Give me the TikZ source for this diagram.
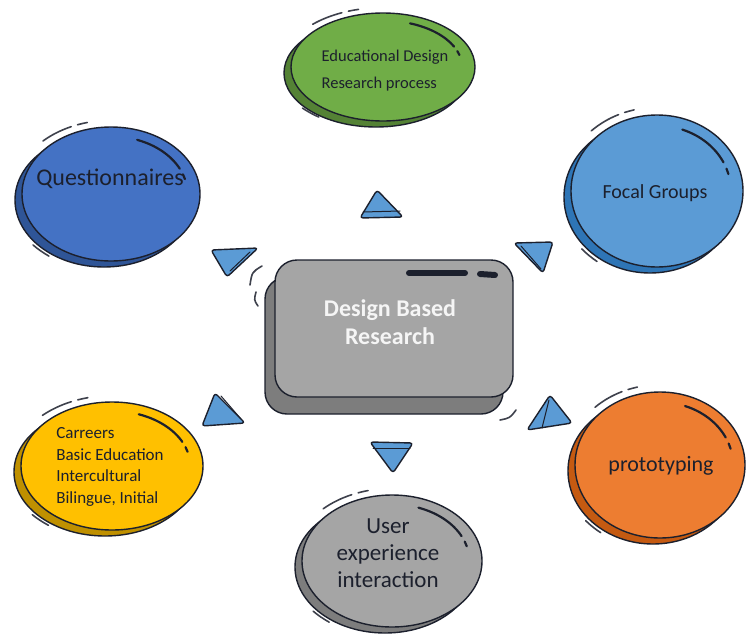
\documentclass[tikz,border=0pt]{standalone}
\usepackage{fontspec}
\setmainfont{Carlito}
\usetikzlibrary{shapes.geometric,shadows}
\definecolor{DiscGreen}{RGB}{112,173,71}
\definecolor{DiscGreenDark}{RGB}{84,130,53}
\definecolor{DiscBlue}{RGB}{68,114,196}
\definecolor{DiscBlueDark}{RGB}{47,85,151}
\definecolor{DiscSky}{RGB}{91,155,213}
\definecolor{DiscSkyDark}{RGB}{46,117,182}
\definecolor{DiscGold}{RGB}{255,192,0}
\definecolor{DiscGoldDark}{RGB}{191,144,0}
\definecolor{DiscOrange}{RGB}{237,125,49}
\definecolor{DiscOrangeDark}{RGB}{197,90,17}
\definecolor{DiscGray}{RGB}{165,165,165}
\definecolor{DiscGrayDark}{RGB}{125,125,125}
\definecolor{InkDark}{RGB}{28,32,45}
\tikzset{
  disc/.style 2 args={ellipse,draw=InkDark,line width=1.4pt,fill=#1,inner sep=0pt,
    copy shadow={shadow xshift=-7pt,shadow yshift=-6pt,fill=#2,draw=InkDark,line width=1.4pt}},
  slab/.style={rectangle,rounded corners=22pt,draw=InkDark,line width=1.4pt,fill=DiscGray,
    copy shadow={shadow xshift=-10pt,shadow yshift=-17pt,fill=DiscGrayDark,draw=InkDark,line width=1.4pt}},
  disctext/.style={text=InkDark,inner sep=0pt},
  gloss/.style={draw=InkDark,line width=2.2pt,line cap=round},
  sketch/.style={draw=InkDark!85,line width=1.6pt,line cap=round},
  pyr/.style={draw=InkDark,line width=1.4pt,fill=DiscSky,rounded corners=3pt,line join=round},
}
% highlight and sketch strokes round a disc: name, x radius, y radius
\newcommand{\discmarks}[3]{%
  \pgfmathsetmacro{\gx}{0.86*#2}\pgfmathsetmacro{\gy}{0.86*#3}%
  \pgfmathsetmacro{\sx}{1.1*#2}\pgfmathsetmacro{\sy}{1.1*#3}%
  \pgfmathsetmacro{\ax}{\gx*cos(290)}\pgfmathsetmacro{\ay}{\gy*sin(290)}%
  \draw[gloss] (#1.center) ++(\ax,\ay) arc[start angle=290,end angle=334,x radius=\gx,y radius=\gy];
  \pgfmathsetmacro{\ax}{\gx*cos(340)}\pgfmathsetmacro{\ay}{\gy*sin(340)}%
  \draw[gloss] (#1.center) ++(\ax,\ay) arc[start angle=340,end angle=345,x radius=\gx,y radius=\gy];
  \pgfmathsetmacro{\ax}{\sx*cos(226)}\pgfmathsetmacro{\ay}{\sy*sin(226)}%
  \draw[sketch] (#1.center) ++(\ax,\ay) arc[start angle=226,end angle=246,x radius=\sx,y radius=\sy];
  \pgfmathsetmacro{\ax}{\sx*cos(250)}\pgfmathsetmacro{\ay}{\sy*sin(250)}%
  \draw[sketch] (#1.center) ++(\ax,\ay) arc[start angle=250,end angle=256,x radius=\sx,y radius=\sy];
  \pgfmathsetmacro{\sx}{1.16*#2}\pgfmathsetmacro{\sy}{1.16*#3}%
  \pgfmathsetmacro{\ax}{\sx*cos(127)}\pgfmathsetmacro{\ay}{\sy*sin(127)}%
  \draw[sketch] (#1.center) ++(\ax,\ay) arc[start angle=127,end angle=139,x radius=\sx,y radius=\sy];
}

\begin{document}
\begin{tikzpicture}[x=1pt,y=-1pt]
\useasboundingbox[fill=white] (0,0) rectangle (747,635);

% centre slab
\node[slab,minimum width=238pt,minimum height=137pt] (dbr) at (394,328.5) {};
\draw[gloss,line width=6pt] (409,273) -- (465,273);
\draw[gloss,line width=6pt] (480,274) -- (495,275);
\node[font=\fontsize{24}{28}\selectfont\bfseries,text=white!96!black,align=center] (dbrtext) at (390,322) {Design Based\\Research};
\draw[sketch] (262,266) .. controls (252,272) .. (250,285);
\draw[sketch] (256,292) .. controls (254,300) .. (258,306);
\draw[sketch] (500,420) .. controls (510,418) .. (516,410);

% discs
\node[disc={DiscGreen}{DiscGreenDark},minimum width=184pt,minimum height=108pt] (edr) at (383,67) {};
\node[disc={DiscBlue}{DiscBlueDark},minimum width=178pt,minimum height=134pt] (qst) at (111,194) {};
\node[disc={DiscSky}{DiscSkyDark},minimum width=172pt,minimum height=152pt] (fcg) at (657,191) {};
\node[disc={DiscGold}{DiscGoldDark},minimum width=182pt,minimum height=128pt] (car) at (112,466) {};
\node[disc={DiscOrange}{DiscOrangeDark},minimum width=170pt,minimum height=146pt] (pro) at (660,465) {};
\node[disc={DiscGray}{DiscGrayDark},minimum width=180pt,minimum height=132pt] (uxi) at (392,561) {};
\discmarks{edr}{92}{54}
\discmarks{qst}{89}{67}
\discmarks{fcg}{86}{76}
\discmarks{car}{91}{64}
\discmarks{pro}{85}{73}
\discmarks{uxi}{90}{66}

% disc texts
\node[disctext,align=left,font=\fontsize{16.5}{27}\selectfont] (edrtext) at (385,71) {Educational Design\\Research process};
\node[disctext,font=\fontsize{24}{28}\selectfont] (qsttext) at (110,179) {Questionnaires};
\node[disctext,font=\fontsize{20}{24}\selectfont] (fcgtext) at (655,193) {Focal Groups};
\node[disctext,align=left,font=\fontsize{17}{21.5}\selectfont] (cartext) at (110,467) {Carreers\\Basic Education\\Intercultural\\Bilingue, Initial};
\node[disctext,font=\fontsize{22}{26}\selectfont] (protext) at (661,466) {prototyping};
\node[disctext,align=center,font=\fontsize{23}{27}\selectfont] (uxitext) at (388,553) {User\\experience\\interaction};

% pyramids
\draw[pyr] (377,190) -- (403,217) -- (360,218) -- cycle;
\draw[gloss,line width=1pt] (363,212) -- (400,211);
\draw[pyr] (211,250) -- (258,248) -- (227,277) -- cycle;
\draw[gloss,line width=1pt] (250,252) -- (230,271);
\draw[pyr] (514,243) -- (553,242) -- (543,273) -- cycle;
\draw[gloss,line width=1pt] (521,246) -- (541,269);
\draw[pyr] (215,393) -- (245,423) -- (202,426) -- cycle;
\draw[gloss,line width=1pt] (221,396) -- (241,419);
\draw[pyr] (370,442) -- (413,443) -- (393,473) -- cycle;
\draw[gloss,line width=1pt] (373,448) -- (410,448);
\draw[pyr] (550,395) -- (572,423) -- (527,430) -- cycle;
\draw[gloss,line width=1pt] (549,400) -- (542,428);
\end{tikzpicture}
\end{document}
